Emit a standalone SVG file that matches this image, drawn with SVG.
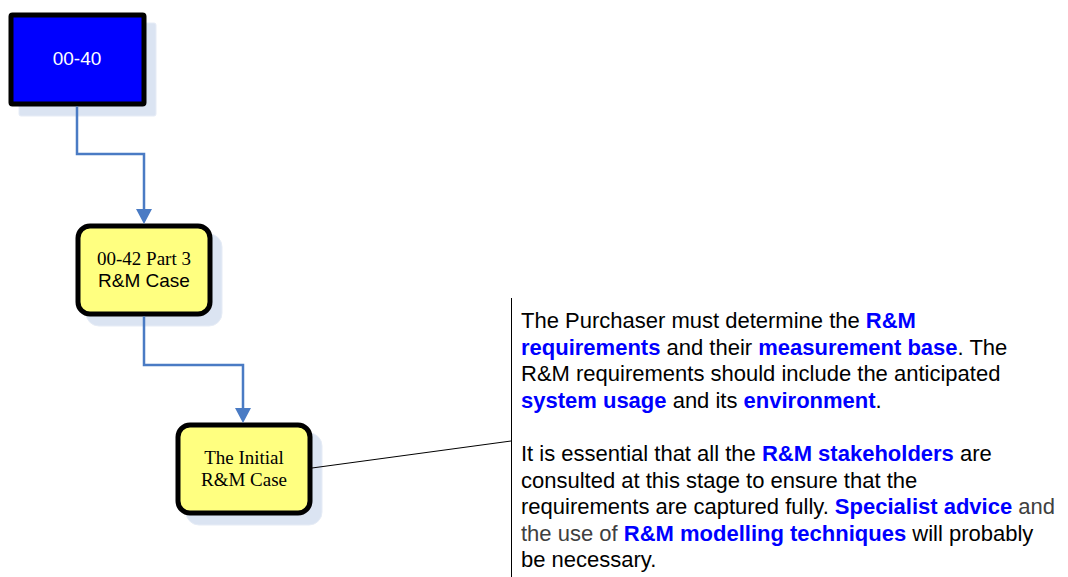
<svg xmlns="http://www.w3.org/2000/svg" width="1068" height="577" viewBox="0 0 1068 577">
<defs>
<style>
.shadow{fill:#dbe4f2;stroke:#e6ecf6;stroke-width:1}
.conn{fill:none;stroke:#4a7bc4;stroke-width:2.5}
.note{font-family:"Liberation Sans",Arial,sans-serif;font-size:22px;fill:#000}
.hl{fill:#0000ff;font-weight:bold}
.gr{fill:#404040}
.yel{fill:#ffff80;stroke:#000;stroke-width:5}
.serif{font-family:"Liberation Serif","Times New Roman",serif;font-size:19px}
.sans{font-family:"Liberation Sans",Arial,sans-serif;font-size:19px}
</style>
</defs>
<g id="node-0040">
<rect class="shadow" x="19" y="23" width="137" height="93" rx="2"/>
<rect x="11" y="15" width="133" height="89" rx="1.5" fill="#0000ff" stroke="#000" stroke-width="5"/>
<text class="sans" x="77" y="65" text-anchor="middle" fill="#fff">00-40</text>
</g>
<g id="node-0042">
<rect class="shadow" x="86" y="234" width="136" height="92" rx="13"/>
<rect class="yel" x="78" y="226" width="132" height="88" rx="12"/>
<text class="serif" x="144" y="265" text-anchor="middle">00-42 Part 3</text>
<text class="sans" x="144" y="287" text-anchor="middle">R&amp;M Case</text>
</g>
<g id="node-initial">
<rect class="shadow" x="186" y="433" width="136" height="92" rx="13"/>
<rect class="yel" x="178" y="425" width="132" height="88" rx="12"/>
<text class="serif" x="244" y="464" text-anchor="middle">The Initial</text>
<text class="serif" x="244" y="486" text-anchor="middle">R&amp;M Case</text>
</g>
<g id="connectors">
<path class="conn" d="M77,106.5 V154 H144 V209"/>
<path d="M136,209 L152,209 L144,224 Z" fill="#4a7bc4"/>
<path class="conn" d="M144,316.5 V365 H243 V408"/>
<path d="M235,408 L251,408 L243,423 Z" fill="#4a7bc4"/>
<path d="M312,468 L511,441" stroke="#000" stroke-width="1" fill="none"/>
<path d="M511.5,298 V577" stroke="#000" stroke-width="1" fill="none"/>
</g>
<g id="note">
<text class="note" x="521" y="328">The Purchaser must determine the <tspan class="hl">R&amp;M</tspan></text>
<text class="note" x="521" y="355"><tspan class="hl">requirements</tspan> and their <tspan class="hl">measurement base</tspan>. The</text>
<text class="note" x="521" y="381">R&amp;M requirements should include the anticipated</text>
<text class="note" x="521" y="408"><tspan class="hl">system usage</tspan> and its <tspan class="hl">environment</tspan>.</text>
<text class="note" x="521" y="461">It is essential that all the <tspan class="hl">R&amp;M stakeholders</tspan> are</text>
<text class="note" x="521" y="488">consulted at this stage to ensure that the</text>
<text class="note" x="521" y="514">requirements are captured fully. <tspan class="hl">Specialist advice</tspan> <tspan class="gr">and</tspan></text>
<text class="note" x="521" y="541"><tspan class="gr">the use of</tspan> <tspan class="hl">R&amp;M modelling techniques</tspan> will probably</text>
<text class="note" x="521" y="567">be necessary.</text>
</g>
</svg>
